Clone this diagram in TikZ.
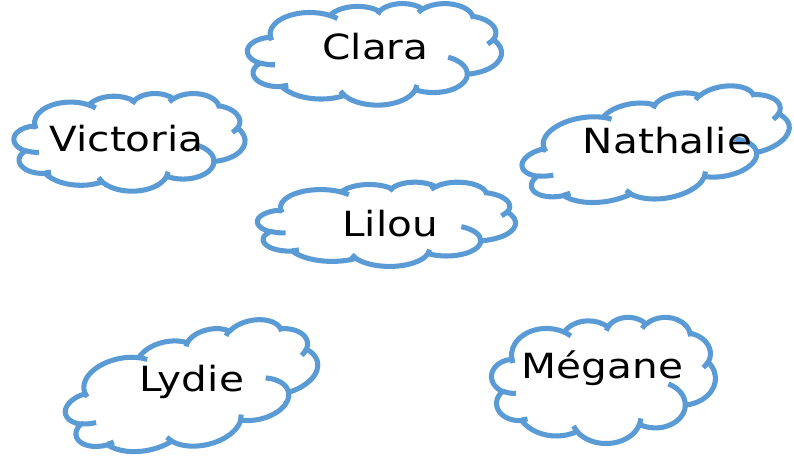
\documentclass[tikz,border=0pt]{standalone}
\usepackage{fontspec}
\setmainfont{DejaVu Sans}[FakeStretch=1.17]
\definecolor{cloudblue}{RGB}{91,155,213}
\tikzset{
    % arc given like an office shape: radii, start angle, sweep (real angles)
    puff/.code args={#1/#2/#3/#4}{%
        \pgfmathsetmacro\puffA{atan2(#1*sin(#3),#2*cos(#3))}%
        \pgfmathsetmacro\puffB{atan2(#1*sin(#3+#4),#2*cos(#3+#4))}%
        \pgfmathsetmacro\puffB{\puffB+360*round((\puffA+#4-\puffB)/360)}%
        \pgfkeysalso{x radius=#1, y radius=#2, start angle=\puffA, end angle=\puffB}},
    cloudline/.style={draw=cloudblue, line width=3.8pt, line join=round},
    girl/.style={font=\fontsize{26}{30}\selectfont, anchor=base, inner sep=0pt},
    cloudpic/.pic={
        \begin{scope}[shift={(-216,-216)}]
            \draw[cloudline] (39,143.7)
                arc[puff=67.53/91.90/-190.4875/123.7805]
                arc[puff=53.33/72.67/-144.1024/89.9452]
                arc[puff=43.65/59.45/-145.8079/99.7230]
                arc[puff=48.57/65.95/-130.9861/117.2417]
                arc[puff=53.33/72.73/-78.7089/109.0269]
                arc[puff=67.75/92.20/-46.2673/130.2690]
                arc[puff=57.85/78.67/0.6250/114.0333]
                arc[puff=67.52/92.15/22.4516/115.1726]
                arc[puff=77.20/105.43/66.2426/75.7110]
                arc[puff=43.60/59.18/-274.9421/146.7356]
                arc[puff=43.45/59.45/-246.8285/152.5189] -- cycle;
            \draw[cloudline]
                (46.93,261.77) arc[puff=43.45/59.45/86.7420/26.4295]
                (69.28,348.99) arc[puff=43.60/59.18/73.6105/11.4475]
                (164.78,390.90) arc[puff=67.52/92.15/137.6242/14.0811]
                (288.27,347.51) arc[puff=67.52/92.15/6.4533/15.9984]
                (341.29,229.54) arc[puff=57.85/78.67/-70.2924/73.0221]
                (417.98,153.54) arc[puff=53.33/72.73/30.3180/20.7582]
                (383.24,54.26) arc[puff=48.57/65.95/-13.7443/14.8502]
                (290.78,39.52) arc[puff=48.57/65.95/-149.1815/18.1976]
                (221.41,47.20) arc[puff=43.65/59.45/-163.4943/17.6911]
                (140.00,51.92) arc[puff=67.53/91.90/-66.7070/12.3194]
                (41.27,157.89) arc[puff=67.53/91.90/157.6544/11.8582];
        \end{scope}
    }
}
\begin{document}
\begin{tikzpicture}[x=0.75pt, y=-0.75pt]
    \useasboundingbox (0,0) rectangle (794,456);
    % clouds
    \pic[xscale=0.5880, yscale=0.2350] at (374.5,54) {cloudpic};
    \pic[xscale=0.5347, yscale=0.2260] at (129.5,142) {cloudpic};
    \pic[rotate=9, xscale=0.6250, yscale=0.2350] at (656,148) {cloudpic};
    \pic[xscale=0.5972, yscale=0.1950] at (386.5,224) {cloudpic};
    \pic[rotate=12, xscale=0.5950, yscale=0.2600] at (192,390) {cloudpic};
    \pic[xscale=0.5180, yscale=0.2920] at (603.5,380) {cloudpic};
    % names
    \node[girl] (clara) at (375.5,60) {Clara};
    \node[girl] (victoria) at (126.5,151.7) {Victoria};
    \node[girl] (nathalie) at (667.5,153.3) {Nathalie};
    \node[girl] (lilou) at (390,236.7) {Lilou};
    \node[girl] (lydie) at (191.5,391.7) {Lydie};
    \node[girl] (megane) at (602.5,378.3) {Mégane};
\end{tikzpicture}
\end{document}
